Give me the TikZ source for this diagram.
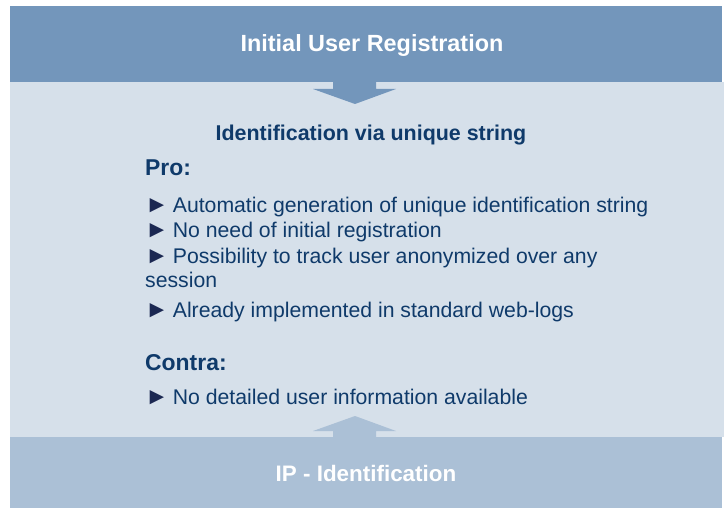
\documentclass[tikz,border=0pt]{standalone}
\usepackage{fontspec}
\setmainfont{Liberation Sans}
\definecolor{regblue}{HTML}{7396BB}
\definecolor{paneblue}{HTML}{D6E0EA}
\definecolor{ipblue}{HTML}{ABC0D6}
\definecolor{navy}{HTML}{0F3A6A}
\definecolor{tipnavy}{HTML}{1B2852}
\newcommand{\tri}{{\color{tipnavy}\fontsize{24}{25}\selectfont►}\hspace{4bp}}
\begin{document}
\begin{tikzpicture}
  [x=1bp,y=-1bp,
   band/.style={minimum width=712bp,minimum height=76bp,inner sep=0pt,text=white,
     font=\bfseries\fontsize{23}{27}\selectfont},
   head/.style={text=navy,font=\bfseries\fontsize{21.5}{26}\selectfont,inner sep=0pt},
   item/.style={anchor=base west,text=navy,font=\fontsize{21.3}{25}\selectfont,inner sep=0pt}]
  \useasboundingbox (0,0) rectangle (724,508);

  % middle panel
  \fill[paneblue] (10,82) rectangle (724,437);

  \node[band,fill=regblue] (reg) at (366,44) {};
  \node[band,fill=ipblue,minimum height=71bp] (ip) at (366,472.5) {};
  \node[anchor=base,text=white,font=\bfseries\fontsize{23.5}{27}\selectfont] (regtxt) at (372,52) {Initial User Registration};
  \node[anchor=base,text=white,font=\bfseries\fontsize{22.5}{27}\selectfont] (iptxt) at (366,481) {IP - Identification};

  % block arrows
  \fill[regblue] (333,80) -- (333,89) -- (313,89) -- (355,104) -- (396,89) -- (376,89) -- (376,80) -- cycle;
  \fill[ipblue] (333,439) -- (333,431) -- (313,431) -- (355,416) -- (396,431) -- (376,431) -- (376,439) -- cycle;

  \node[head,anchor=base] (ident) at (371,141) {Identification via unique string};
  \node[head,anchor=base west,font=\bfseries\fontsize{23}{26}\selectfont] (pro) at (145,176) {Pro:};
  \node[head,anchor=base west,font=\bfseries\fontsize{23}{26}\selectfont] (contra) at (145,370) {Contra:};

  \foreach \y/\txt in {213/Automatic generation of unique identification string,
    238/No need of initial registration,
    264/Possibility to track user anonymized over any,
    317/Already implemented in standard web-logs,
    404/No detailed user information available}
    \node[item] at (145,\y) {\tri\txt};
  \node[item] (sess) at (145,288) {session};

\end{tikzpicture}
\end{document}
